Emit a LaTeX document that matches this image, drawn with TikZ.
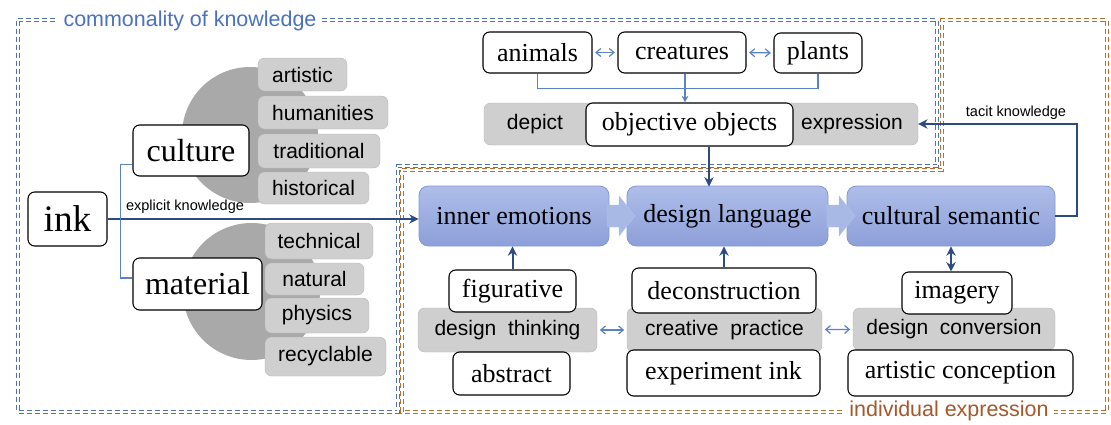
\documentclass[tikz,border=0pt]{standalone}
\usepackage{fontspec}
\setmainfont{Liberation Serif}
\setsansfont{Liberation Sans}
\usepackage{xcolor}
\usetikzlibrary{arrows.meta,calc}
\definecolor{navy}{HTML}{2E4A84}
\definecolor{linkblue}{HTML}{5A82C6}
\definecolor{dashblue}{HTML}{4F72B5}
\definecolor{dashorange}{HTML}{B5702F}
\definecolor{areabrown}{HTML}{A5582A}
\definecolor{areablue}{HTML}{4A72BE}
\definecolor{pillgray}{HTML}{CFCFCF}
\definecolor{discgray}{HTML}{A9A9A9}
\definecolor{boxtop}{HTML}{AEBDE9}
\definecolor{boxbottom}{HTML}{8C9FD8}
\definecolor{boxedge}{HTML}{8598D2}
\definecolor{chevblue}{HTML}{A9B9E6}

\begin{document}
\begin{tikzpicture}[x=0.75pt, y=-0.75pt,
    sz/.style 2 args={minimum width=#1*0.75pt, minimum height=#2*0.75pt},
    word/.style={draw=black, line width=0.8pt, fill=white, rounded corners=5pt, inner sep=0pt, font=\fontsize{19.5}{22}\selectfont},
    pill/.style={fill=pillgray, draw=pillgray!88!black, line width=0.3pt, rounded corners=5pt, inner sep=0pt, font=\sffamily\fontsize{15.75}{18}\selectfont},
    stage/.style={draw=boxedge, line width=0.6pt, top color=boxtop, bottom color=boxbottom, rounded corners=7pt, inner sep=0pt, font=\fontsize{19.5}{22}\selectfont},
    note/.style={inner sep=1pt, font=\sffamily\fontsize{10.9}{13}\selectfont},
    area/.style={fill=white, inner sep=4pt, font=\sffamily\fontsize{16.1}{19}\selectfont},
    bluedash/.style={draw=dashblue, line width=3pt, dash pattern=on 3.5pt off 2.5pt,
        postaction={draw=white, line width=1pt, dash pattern=on 3.5pt off 2.5pt}},
    orangedash/.style={draw=dashorange, line width=3pt, dash pattern=on 3.5pt off 2.5pt,
        postaction={draw=white, line width=1pt, dash pattern=on 3.5pt off 2.5pt}},
    main/.style={draw=navy, line width=1.5pt, -{Stealth[length=7pt,width=7pt]}},
    branch/.style={draw=linkblue, line width=1.1pt},
    twin/.style={draw=linkblue, line width=0.9pt, {Straight Barb[length=3.5pt,width=6pt]}-{Straight Barb[length=3.5pt,width=6pt]}, shorten <=2pt, shorten >=2pt}]
    \useasboundingbox (0,0) rectangle (1111,425);

    \draw[bluedash] (18,20) -- (937,20) -- (937,166) -- (398,166) -- (398,412) -- (18,412) -- cycle;
    \draw[orangedash] (402,170) -- (942,170) -- (942,20) -- (1107,20) -- (1107,412) -- (402,412) -- cycle;
    \node[area, text=areablue] (common) at (190,21) {commonality of knowledge};
    \node[area, text=areabrown] (individual) at (949,411) {individual expression};

    \fill[discgray] (250,135) circle (68);
    \fill[discgray] (251.5,291.5) circle (68.5);

    \node[word, sz={79}{54}, font=\fontsize{28}{30}\selectfont] (ink) at (67.5,219) {ink};
    \node[word, sz={116}{51}, font=\fontsize{24}{26}\selectfont] (culture) at (191,150.5) {culture};
    \node[word, sz={129}{52}, font=\fontsize{24}{26}\selectfont] (material) at (197.5,284) {material};

    \node[pill, sz={89}{33}] (artistic) at (302.5,74.5) {artistic};
    \node[pill, sz={130}{33}] (humanities) at (323,112.5) {humanities};
    \node[pill, sz={122}{34}] (traditional) at (319,151) {traditional};
    \node[pill, sz={111}{32}] (historical) at (313.5,188) {historical};
    \node[pill, sz={108}{36}] (technical) at (319,241) {technical};
    \node[pill, sz={99}{32}] (natural) at (314.5,279) {natural};
    \node[pill, sz={104}{35}] (physics) at (317,315.5) {physics};
    \node[pill, sz={121}{39}] (recyclable) at (325.5,356.5) {recyclable};

    \node[word, sz={109}{41}] (animals) at (537.5,52.5) {animals};
    \node[word, sz={128}{41}] (creatures) at (682,52.5) {creatures};
    \node[word, sz={88}{40}] (plants) at (818,53) {plants};
    \node[pill, sz={434}{42}] (bar) at (701,124) {};
    \node[pill, fill=none, draw=none] (depict) at (535,124) {depict};
    \node[pill, fill=none, draw=none] (expression) at (852,124) {expression};
    \node[word, sz={207}{43}] (objective) at (689.5,124.5) {objective objects};

    \node[stage, sz={190}{60}] (inner) at (514,216) {inner emotions};
    \node[stage, sz={201}{60}] (design) at (727.5,216) {design language};
    \node[stage, sz={208}{60}] (cultural) at (951,216) {cultural semantic};
    \foreach \s in {0,220}
        \fill[chevblue, draw=boxedge!60!white, line width=0.3pt] (607+\s,205) -- (619+\s,205) -- (619+\s,196) -- (635+\s,216) -- (619+\s,236) -- (619+\s,227) -- (607+\s,227) -- cycle;

    \node[pill, sz={179}{44}] (thinking) at (507.5,330) {design\ \ thinking};
    \node[pill, sz={195}{44}] (practice) at (724.5,330) {creative\ \ practice};
    \node[pill, sz={202}{42}] (conversion) at (954,329) {design\ \ conversion};
    \node[word, sz={127}{42}] (figurative) at (512.5,291) {figurative};
    \node[word, sz={117}{43}] (abstract) at (511.5,373.5) {abstract};
    \node[word, sz={184}{45}] (deconstruction) at (724,290.5) {deconstruction};
    \node[word, sz={193}{46}] (experiment) at (723.5,373) {experiment ink};
    \node[word, sz={110}{42}] (imagery) at (957,293) {imagery};
    \node[word, sz={225}{46}] (conception) at (960.5,373) {artistic conception};

    \draw[main] (ink.east) -- (ink.east -| inner.west);
    \draw[branch] ($(culture.west)+(0,14)$) -- ++(-12,0) |- ($(material.west)+(0,-6)$);
    \node[note] (explicit) at (185,207) {explicit knowledge};

    \draw[twin] (animals) -- (creatures);
    \draw[twin] (creatures) -- (plants);
    \draw[branch] (animals.south) -- ++(0,15) -| (plants.south);
    \draw[branch, -{Stealth[length=5pt,width=5pt]}] ($(creatures.south)+(3,0)$) -- ($(objective.north)+(-4.5,0)$);
    \draw[main] ($(objective.south)+(19.5,0)$) -- ++(0,40);

    \draw[main] (cultural.east) -- ++(22,0) |- (bar.east);
    \node[note] (tacit) at (1016,113) {tacit knowledge};

    \draw[main] (figurative.north) -- (figurative.north |- inner.south);
    \draw[main] (deconstruction.north) -- (deconstruction.north |- design.south);
    \draw[main, {Stealth[length=7pt,width=7pt]}-{Stealth[length=7pt,width=7pt]}] (cultural.south) -- (cultural.south |- imagery.north);
    \draw[twin] (thinking) -- (practice);
    \draw[twin] (practice) -- (conversion);
\end{tikzpicture}
\end{document}
